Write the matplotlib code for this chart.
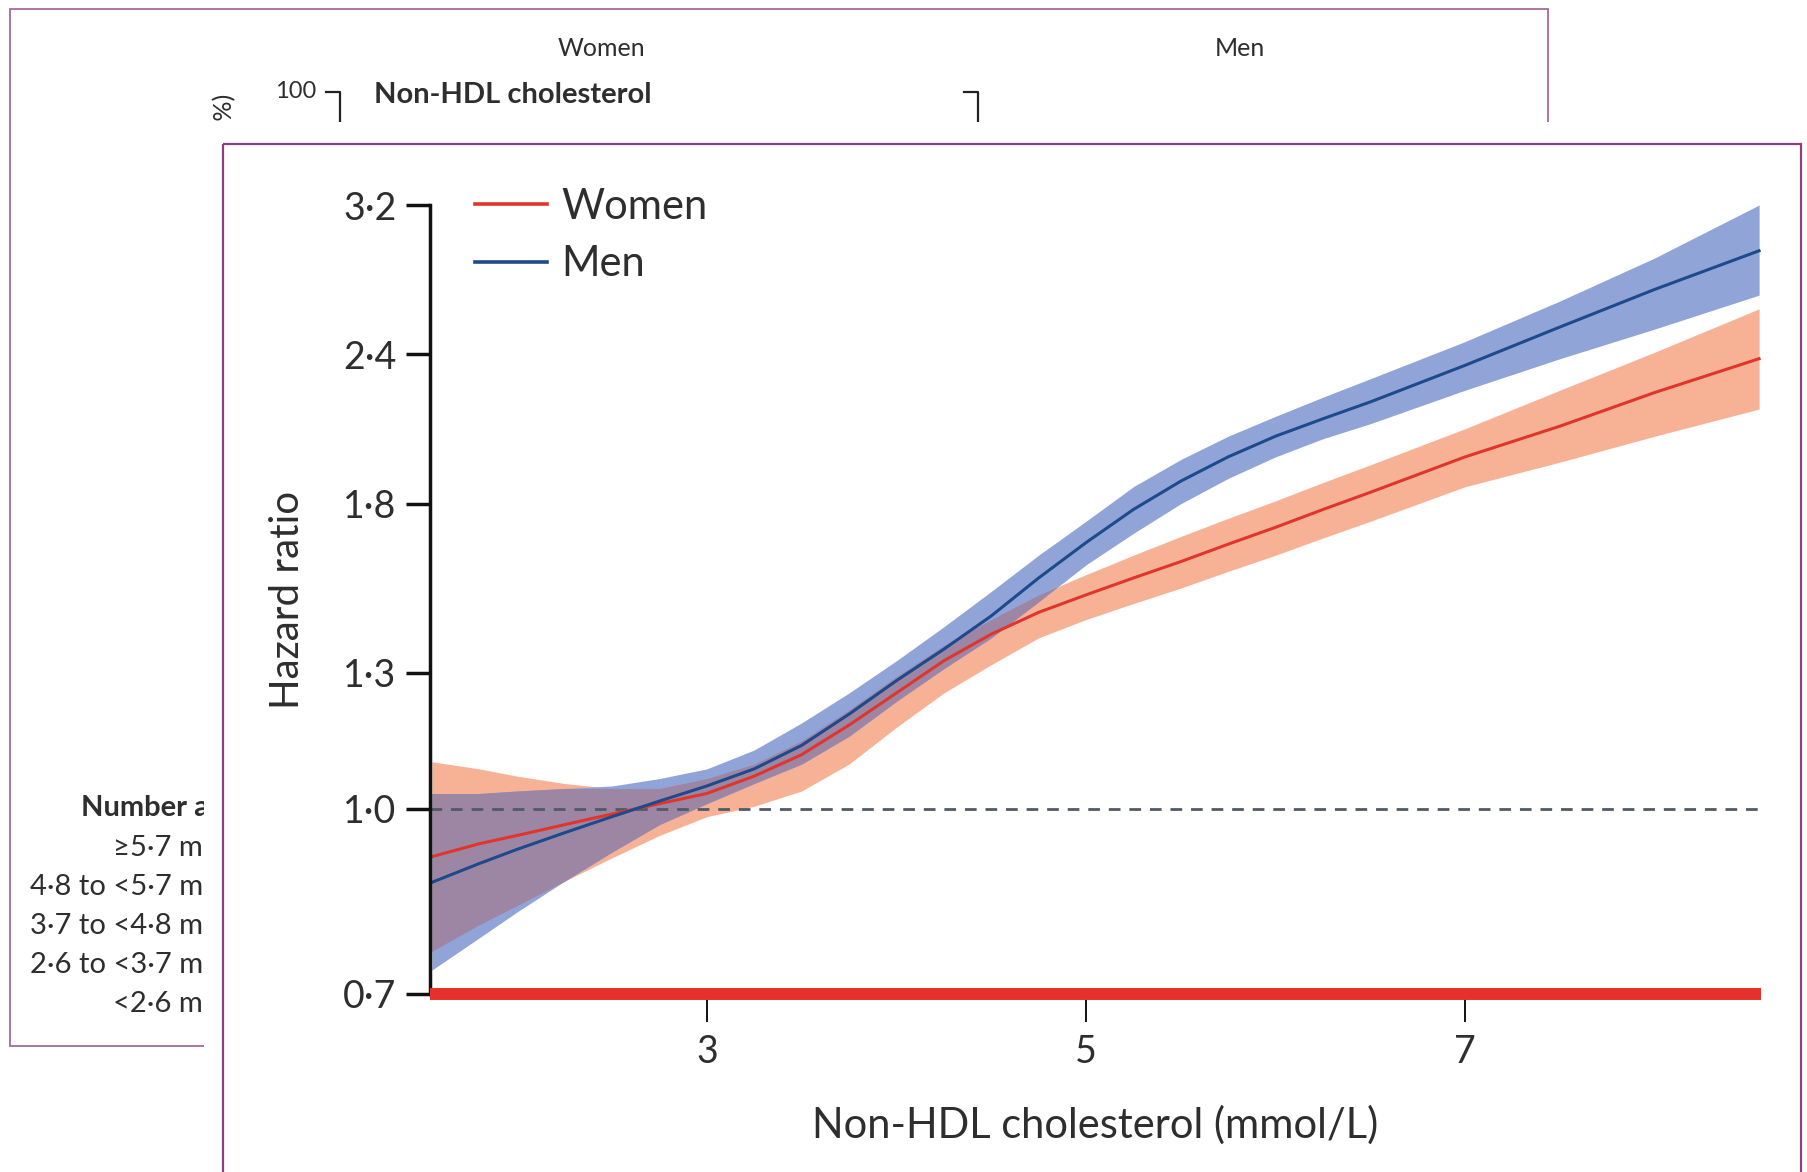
import numpy as np
import matplotlib.pyplot as plt
from matplotlib.patches import Rectangle
from matplotlib.ticker import NullLocator

plt.rcParams['font.family'] = ['Lato', 'DejaVu Sans']

# datos (colesterol no-HDL vs hazard ratio)
chol = [1.55, 1.8, 2.0, 2.25, 2.5, 2.75, 3.0, 3.25, 3.5, 3.75, 4.0, 4.25, 4.5,
        4.75, 5.0, 5.25, 5.5, 5.75, 6.0, 6.25, 6.5, 7.0, 7.5, 8.0, 8.55]

women_hr = [0.912, 0.935, 0.95, 0.97, 0.99, 1.01, 1.03, 1.065, 1.11, 1.175, 1.25, 1.33, 1.40,
            1.46, 1.51, 1.56, 1.61, 1.665, 1.72, 1.78, 1.84, 1.97, 2.09, 2.23, 2.38]
women_lo = [0.76, 0.80, 0.83, 0.87, 0.91, 0.95, 0.985, 1.005, 1.035, 1.09, 1.17, 1.25, 1.32,
            1.39, 1.44, 1.485, 1.53, 1.58, 1.63, 1.685, 1.74, 1.86, 1.95, 2.05, 2.16]
women_hi = [1.095, 1.08, 1.065, 1.05, 1.04, 1.04, 1.06, 1.09, 1.14, 1.21, 1.29, 1.37, 1.44,
            1.51, 1.57, 1.63, 1.69, 1.75, 1.81, 1.875, 1.94, 2.08, 2.24, 2.41, 2.62]

men_hr = [0.868, 0.90, 0.925, 0.955, 0.985, 1.015, 1.045, 1.08, 1.13, 1.20, 1.28, 1.36, 1.45,
          1.56, 1.67, 1.78, 1.88, 1.97, 2.05, 2.12, 2.19, 2.35, 2.53, 2.72, 2.93]
men_lo = [0.733, 0.78, 0.82, 0.87, 0.92, 0.97, 1.01, 1.05, 1.09, 1.15, 1.23, 1.31, 1.39,
          1.49, 1.60, 1.70, 1.80, 1.89, 1.97, 2.04, 2.10, 2.24, 2.38, 2.52, 2.69]
men_hi = [1.03, 1.03, 1.035, 1.04, 1.045, 1.06, 1.08, 1.12, 1.18, 1.25, 1.33, 1.42, 1.52,
          1.63, 1.74, 1.86, 1.96, 2.05, 2.13, 2.21, 2.29, 2.46, 2.66, 2.89, 3.2]

y_ticks = [0.7, 1.0, 1.3, 1.8, 2.4, 3.2]
y_ticklabels = ['0·7', '1·0', '1·3', '1·8', '2·4', '3·2']
x_ticks = [3, 5, 7]
x_ticklabels = ['3', '5', '7']

# figura de fondo (tapada en parte)
bg_panels = ['Women', 'Men']
risk_rows = ['≥5·7 mmol/L', '4·8 to <5·7 mmol/L', '3·7 to <4·8 mmol/L',
             '2·6 to <3·7 mmol/L', '<2·6 mmol/L']

c_red = '#e0352b'
c_blue = '#1d4a8c'
c_orange_band = '#f7b296'
c_blue_band = '#91a4d8'
c_overlap = '#9d86a4'
c_text = '#2e2e2e'

fig = plt.figure(figsize=(18.08, 11.72), dpi=100)

# --- capa de fondo en pixeles ---
bg = fig.add_axes([0, 0, 1, 1], zorder=0)
bg.set_xlim(0, 1808)
bg.set_ylim(1172, 0)
bg.axis('off')

bg.add_patch(Rectangle((10, 9), 1538, 1037, fill=False, edgecolor='#a66a98', lw=1.3))
for name, xc in zip(bg_panels, [601, 1240]):
    bg.text(xc, 48, name, fontsize=18, ha='center', va='center', color=c_text)
bg.text(316, 92, '100', fontsize=17, ha='right', va='center', color=c_text)
bg.plot([326, 340, 340], [92, 92, 130], color='#222222', lw=1.6)
bg.plot([964, 978, 978], [92, 92, 130], color='#222222', lw=1.6)
bg.text(374, 95, 'Non-HDL cholesterol', fontsize=21, fontweight='bold',
        ha='left', va='center', color=c_text)
bg.text(225, 94, 'Cumulative incidence (%)', fontsize=18, rotation=90,
        ha='center', va='top', color=c_text)
bg.text(81, 808, 'Number at risk', fontsize=21, fontweight='bold',
        ha='left', va='center', color=c_text)
for i, row in enumerate(risk_rows):
    bg.text(278, 848 + i * 39, row, fontsize=21, ha='right', va='center', color=c_text)

# hoja blanca y marco del grafico principal
bg.add_patch(Rectangle((204, 122), 1610, 1060, facecolor='white', edgecolor='none', zorder=5))
bg.add_patch(Rectangle((223, 144), 1578, 1100, fill=False, edgecolor='#8a3f7f', lw=1.6, zorder=6))

# --- grafico principal ---
ax = fig.add_axes([430 / 1808, 1 - 994 / 1172, 1331 / 1808, 789 / 1172], zorder=10)
ax.set_facecolor('none')
ax.set_yscale('log')

x = np.array(chol)
ax.fill_between(x, women_lo, women_hi, color=c_orange_band, lw=0, zorder=1)
ax.fill_between(x, men_lo, men_hi, color=c_blue_band, lw=0, zorder=1.1)
ov_lo = np.maximum(women_lo, men_lo)
ov_hi = np.minimum(women_hi, men_hi)
ax.fill_between(x, ov_lo, ov_hi, where=ov_hi > ov_lo, interpolate=True,
                color=c_overlap, lw=0, zorder=1.2)

ax.axhline(1.0, color='#505a66', lw=2, linestyle=(0, (4.2, 3.2)), zorder=1.5)
ax.plot(x, women_hr, color=c_red, lw=2.2, label='Women', zorder=2)
ax.plot(x, men_hr, color=c_blue, lw=2.2, label='Men', zorder=2.1)
ax.axhline(0.7, color='#e5312a', lw=8.6, zorder=3, clip_on=False, solid_capstyle='butt')

ax.set_xlim(1.54, 8.56)
ax.set_ylim(0.7, 3.2)
ax.set_yticks(y_ticks)
ax.set_yticklabels(y_ticklabels)
ax.yaxis.set_minor_locator(NullLocator())
ax.set_xticks(x_ticks)
ax.set_xticklabels(x_ticklabels)

for s in ['top', 'right', 'bottom']:
    ax.spines[s].set_visible(False)
ax.spines['left'].set_linewidth(2.5)
ax.spines['left'].set_color('#111111')

ax.tick_params(axis='y', length=17, width=2.5, pad=7, labelsize=27,
               colors='#111111', labelcolor=c_text)
ax.tick_params(axis='x', length=20, width=1.4, pad=9, labelsize=27,
               colors='#111111', labelcolor=c_text)

ax.set_xlabel('Non-HDL cholesterol (mmol/L)', fontsize=30, color=c_text, labelpad=25)
ax.set_ylabel('Hazard ratio', fontsize=29, color=c_text, labelpad=27)

leg = ax.legend(loc='upper left', bbox_to_anchor=(0.034, 1.022), frameon=False,
                fontsize=30, handlelength=1.72, handletextpad=0.35, labelspacing=0.47,
                borderpad=0, borderaxespad=0, labelcolor=c_text)
for h in leg.get_lines():
    h.set_linewidth(2.6)

plt.savefig('out.png', dpi=100)
